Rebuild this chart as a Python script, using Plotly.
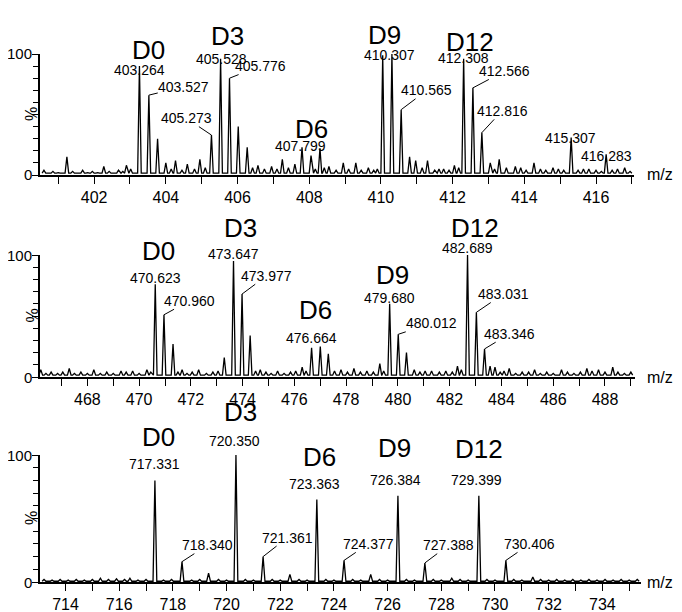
import plotly.graph_objects as go

# ---------------- data ----------------
# Panel 1 (m/z 400.5 - 417)
peaks1_mz = [401.24, 402.27, 402.90, 403.02, 403.264, 403.527, 403.77, 404.00, 404.27, 404.60,
             404.95, 405.273, 405.528, 405.776, 406.02, 406.27, 406.57, 406.95, 407.25, 407.60,
             407.799, 408.05, 408.30, 408.55, 408.95, 409.30, 409.65, 410.05, 410.307, 410.565,
             410.80, 410.97, 411.30, 411.75, 412.05, 412.308, 412.566, 412.816, 413.05, 413.30,
             413.75, 414.27, 414.80, 415.307, 415.80, 416.283, 416.80]
peaks1_h = [15, 7, 8, 5, 90, 66, 30, 10, 12, 9,
            13, 33, 96, 80, 40, 23, 8, 7, 13, 9,
            23, 16, 22, 7, 10, 10, 6, 99, 100, 54,
            15, 12, 12, 5, 8, 96, 72, 35, 10, 13,
            7, 10, 6, 31, 5, 17, 6]
noise1_mz = [400.60, 400.72, 400.85, 401.00, 401.40, 401.55, 401.68, 401.82, 401.95, 402.10,
             402.42, 402.55, 402.68, 402.80, 404.15, 404.45, 404.80, 405.10, 406.42, 406.75,
             407.10, 407.42, 408.17, 408.42, 408.75, 409.10, 409.45, 409.80, 409.90, 411.15,
             411.50, 411.62, 411.90, 412.17, 413.17, 413.50, 413.90, 414.05, 414.45, 414.60,
             414.95, 415.10, 415.50, 415.65, 416.00, 416.15, 416.45, 416.60, 416.95]
noise1_h = [4, 2, 3, 2, 3, 2, 4, 2, 3, 2,
            3, 2, 4, 3, 5, 4, 5, 6, 6, 5,
            5, 6, 5, 6, 4, 5, 4, 4, 5, 6,
            4, 5, 4, 6, 5, 6, 6, 4, 5, 4,
            5, 4, 4, 5, 4, 3, 4, 5, 3]

# Panel 2 (m/z 466 - 489)
peaks2_mz = [470.623, 470.960, 471.31, 471.66, 473.29, 473.647, 473.977, 474.29, 474.68,
             476.664, 477.00, 477.31, 479.680, 480.012, 480.33, 480.63, 482.689, 483.031,
             483.346, 483.56]
peaks2_h = [76, 51, 27, 6, 16, 95, 68, 34, 6,
            24, 25, 19, 60, 35, 20, 6, 100, 53,
            23, 9]
noise2_mz = [466.20, 466.40, 466.60, 466.85, 467.05, 467.30, 467.50, 467.75, 468.00, 468.25,
             468.50, 468.75, 469.00, 469.30, 469.50, 469.75, 470.00, 470.30, 470.45, 471.50,
             471.85, 472.05, 472.30, 472.60, 472.85, 473.05, 474.50, 474.90, 475.10, 475.35,
             475.60, 475.85, 476.05, 476.30, 476.45, 477.55, 477.80, 478.05, 478.30, 478.55,
             478.80, 479.05, 479.30, 479.45, 480.85, 481.05, 481.30, 481.60, 481.85, 482.10,
             482.30, 482.45, 483.75, 483.95, 484.10, 484.30, 484.55, 484.80, 485.05, 485.28,
             485.50, 485.75, 486.00, 486.32, 486.55, 486.80, 487.05, 487.30, 487.50, 487.75,
             488.00, 488.30, 488.50, 488.75, 489.00]
noise2_h = [6, 3, 4, 3, 4, 7, 3, 4, 3, 6,
            3, 4, 3, 5, 4, 5, 3, 6, 4, 4,
            3, 4, 6, 3, 4, 5, 5, 4, 3, 5,
            3, 4, 5, 8, 5, 5, 6, 4, 7, 4,
            5, 4, 11, 5, 4, 5, 5, 4, 5, 4,
            9, 6, 8, 4, 5, 7, 3, 4, 4, 6,
            3, 4, 3, 6, 4, 3, 4, 7, 5, 6,
            4, 8, 4, 3, 4]

# Panel 3 (m/z 713 - 735.4)
peaks3_mz = [717.331, 718.340, 719.33, 720.350, 721.361, 722.36, 723.363, 724.377, 725.37,
             726.384, 727.388, 728.39, 729.399, 730.406, 731.41]
peaks3_h = [80, 16, 7, 100, 20, 6, 65, 17, 6,
            68, 15, 3, 68, 17, 4]
noise3_mz = [713.20, 713.50, 713.80, 714.10, 714.40, 714.70, 715.00, 715.30, 715.60, 715.90,
             716.20, 716.40, 716.70, 717.00, 717.65, 717.95, 718.70, 719.00, 719.70, 720.00,
             720.70, 721.00, 721.70, 722.00, 722.70, 723.00, 723.70, 724.00, 724.70, 725.00,
             725.70, 726.00, 726.70, 727.00, 727.70, 728.00, 728.70, 729.00, 729.70, 730.00,
             730.70, 731.00, 731.70, 732.00, 732.30, 732.60, 732.90, 733.20, 733.50, 733.80,
             734.10, 734.40, 734.70, 735.00, 735.30]
noise3_h = [2, 1.5, 2, 1.5, 2, 1.5, 2, 3, 2, 2.5,
            2, 3, 1.5, 2, 1.5, 2, 1.5, 2, 2, 1.5,
            2, 1.5, 2, 1.5, 2, 1.5, 2, 1.5, 2, 1.5,
            2, 1.5, 2, 1.5, 2, 1.5, 2, 1.5, 2, 1.5,
            2, 1.5, 2, 1.5, 2, 1.5, 2, 1.5, 2, 1.5,
            2, 1.5, 2, 1.5, 2]

# Peak labels
labels1 = ["403.264", "403.527", "405.273", "405.528", "405.776", "407.799", "410.307",
           "410.565", "412.308", "412.566", "412.816", "415.307", "416.283"]
labels2 = ["470.623", "470.960", "473.647", "473.977", "476.664", "479.680", "480.012",
           "482.689", "483.031", "483.346"]
labels3 = ["717.331", "718.340", "720.350", "721.361", "723.363", "724.377", "726.384",
           "727.388", "729.399", "730.406"]
series_names = ["D0", "D3", "D6", "D9", "D12"]

x_ticks1 = list(range(402, 418, 2))
x_ticks2 = list(range(468, 490, 2))
x_ticks3 = list(range(714, 736, 2))
y_labels = [0, 100]

# ---------------- layout helpers (positions / styles) ----------------
W, H = 682, 612
OFF = 8  # the page body adds an 8 px margin around the figure
FONT = "Liberation Sans Narrow, Arial Narrow, Liberation Sans, Arial, sans-serif"
BASE = {1: 1.5, 2: 1.5, 3: 0.6}
HALFW = {1: 0.05, 2: 0.07, 3: 0.07}


def profile(pmz, ph, nmz, nh, base, hw):
    pts = sorted(zip(pmz + nmz, ph + nh))
    xs, ys = [], []
    for m, h in pts:
        xs += [m - hw, m, m + hw]
        ys += [base, h, base]
    return xs, ys


def fx(px):
    return (px - OFF) / W


def fy(px):
    return 1 - (px - OFF) / H


panels = [
    (1, peaks1_mz, peaks1_h, noise1_mz, noise1_h, [400.49, 417.06], (40, 634), (175, 54), x_ticks1),
    (2, peaks2_mz, peaks2_h, noise2_mz, noise2_h, [466.17, 489.16], (40, 635), (377, 255), x_ticks2),
    (3, peaks3_mz, peaks3_h, noise3_mz, noise3_h, [713.05, 735.44], (40, 641), (582, 455), x_ticks3),
]
ydom = {}
ppp = {}

fig = go.Figure()
layout = dict(template="none", width=W, height=H,
              margin=dict(l=0, r=0, t=0, b=0, pad=0, autoexpand=False),
              paper_bgcolor="white", plot_bgcolor="white", showlegend=False,
              font=dict(family=FONT, color="black"))
annotations = []

for idx, pmz, ph, nmz, nh, xr, (xl, xrpx), (y0, y100), xt in panels:
    xs, ys = profile(pmz, ph, nmz, nh, BASE[idx], HALFW[idx])
    sfx = "" if idx == 1 else str(idx)
    ydom[idx] = (fy(y0), fy(y100))
    ppp[idx] = (y0 - y100) / 100.0
    fig.add_trace(go.Scatter(x=xs, y=ys, mode="lines", line=dict(color="black", width=1.3),
                             xaxis="x" + sfx, yaxis="y" + sfx, hoverinfo="skip", cliponaxis=False))
    layout["xaxis" + sfx] = dict(
        domain=[fx(xl), fx(xrpx)], range=xr, anchor="y" + sfx, automargin=False,
        showline=True, linecolor="black", linewidth=1.5, showgrid=False, zeroline=False,
        tickmode="array", tickvals=xt, ticktext=[str(v) for v in xt],
        ticks="outside", ticklen=7, tickwidth=1.3, tickcolor="black",
        minor=dict(dtick=1, tick0=0, ticks="outside", ticklen=7, tickwidth=1.3, tickcolor="black",
                   showgrid=False),
        tickfont=dict(family=FONT, size=16, color="black"))
    layout["yaxis" + sfx] = dict(
        domain=list(ydom[idx]), range=[0, 100], anchor="x" + sfx, automargin=False,
        showline=True, linecolor="black", linewidth=1.5, showgrid=False, zeroline=False,
        tickmode="array", tickvals=[0, 50, 100], showticklabels=False,
        ticks="outside", ticklen=6, tickwidth=1.3, tickcolor="black",
        minor=dict(dtick=10, tick0=0, ticks="outside", ticklen=5, tickwidth=1.3, tickcolor="black",
                   showgrid=False))
    for v in y_labels:
        annotations.append(dict(text=str(v), xref="paper", yref="y" + sfx, x=fx(33), y=v,
                                xanchor="right", yanchor="middle", showarrow=False, borderpad=0,
                                font=dict(family=FONT, size=15)))
    annotations.append(dict(text="%", xref="paper", yref="y" + sfx, x=fx(21), y=50,
                            showarrow=False, textangle=-90, font=dict(family=FONT, size=16)))
    annotations.append(dict(text="m/z", xref="paper", yref="y" + sfx, x=fx(660), y=0,
                            xanchor="center", showarrow=False, font=dict(family=FONT, size=16)))


def py(idx, v):
    d0, d1 = ydom[idx]
    return d0 + (d1 - d0) * v / 100.0


# label placements: text -> (label x, label y %, leader?)
place = {
    1: {"403.264": (403.26, 94, False), "403.527": (404.50, 73, True), "405.273": (404.57, 47, True),
        "405.528": (405.54, 103, False), "405.776": (406.63, 90, True), "407.799": (407.77, 31, False),
        "410.307": (410.25, 107, False), "410.565": (411.28, 70, True), "412.308": (412.31, 104, False),
        "412.566": (413.46, 86, True), "412.816": (413.38, 53, True), "415.307": (415.30, 38, False),
        "416.283": (416.28, 23, False)},
    2: {"470.623": (470.62, 81, False), "470.960": (471.95, 62.5, True), "473.647": (473.64, 101, False),
        "473.977": (474.93, 83, True), "476.664": (476.66, 32, False), "479.680": (479.66, 64.5, False),
        "480.012": (481.30, 44, True), "482.689": (482.69, 106, False), "483.031": (484.07, 68, True),
        "483.346": (484.32, 35.5, True)},
    3: {"717.331": (717.30, 86, False), "718.340": (719.29, 29, True), "720.350": (720.29, 104, False),
        "721.361": (722.27, 35, True), "723.363": (723.29, 70, False), "724.377": (725.28, 30, True),
        "726.384": (726.31, 73, False), "727.388": (728.27, 29, True), "729.399": (729.30, 73, False),
        "730.406": (731.30, 30, True)},
}
dpos = {
    1: [(403.52, 116.5), (405.72, 128.5), (408.07, 51), (410.11, 129), (412.49, 123.5)],
    2: [(470.74, 103), (473.92, 122.5), (476.82, 55), (479.79, 84), (482.98, 122.5)],
    3: [(717.46, 101.5), (720.535, 121.5), (723.45, 86), (726.25, 93), (729.40, 92)],
}
label_sets = {1: (labels1, peaks1_mz, peaks1_h), 2: (labels2, peaks2_mz, peaks2_h),
              3: (labels3, peaks3_mz, peaks3_h)}

for idx, (labs, pmz, ph) in label_sets.items():
    xref = "x" if idx == 1 else "x" + str(idx)
    for lab in labs:
        lx, ly, leader = place[idx][lab]
        if leader:
            k = min(range(len(pmz)), key=lambda i: abs(pmz[i] - float(lab)))
            annotations.append(dict(text=lab, xref=xref, yref="paper", x=pmz[k], y=py(idx, ph[k]),
                                    axref=xref, ayref="pixel", ax=lx, ay=-(ly - ph[k]) * ppp[idx],
                                    showarrow=True, arrowhead=0, arrowwidth=1, arrowcolor="black",
                                    standoff=0, borderpad=0, font=dict(family=FONT, size=14)))
        else:
            annotations.append(dict(text=lab, xref=xref, yref="paper", x=lx, y=py(idx, ly),
                                    showarrow=False, borderpad=0, font=dict(family=FONT, size=14)))
    for name, (dx, dy) in zip(series_names, dpos[idx]):
        annotations.append(dict(text=name, xref=xref, yref="paper", x=dx, y=py(idx, dy),
                                showarrow=False, borderpad=0,
                                font=dict(family="Liberation Sans, Arial, sans-serif", size=26)))

layout["annotations"] = annotations
fig.update_layout(**layout)
fig.write_html("out.html")
